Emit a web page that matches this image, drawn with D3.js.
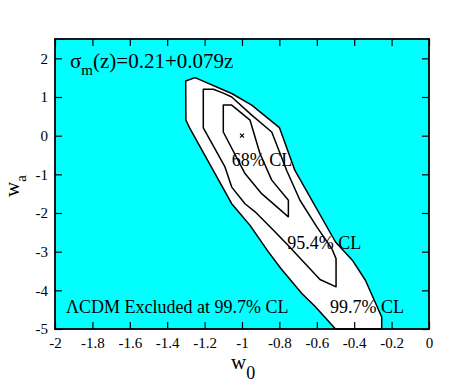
<html>
<head>
<meta charset="utf-8">
<script src="https://cdn.jsdelivr.net/npm/d3@7"></script>
<style>
  body { margin: 0; background: #fff; }
  text { font-family: "Liberation Serif", "DejaVu Serif", serif; fill: #000; }
</style>
</head>
<body>
<script>

// data: confidence contours in the (w0, wa) plane
var c997 = [[-1.301,1.414],[-1.251,1.50],[-1.055,1.09],[-0.948,0.79],[-0.80,0.21],
            [-0.717,-0.90],[-0.50,-2.75],[-0.41,-3.22],[-0.34,-3.74],[-0.253,-4.69],
            [-0.253,-5.0],[-0.50,-5.0],[-0.61,-4.41],[-0.68,-4.08],[-0.79,-3.45],
            [-0.86,-3.0],[-0.957,-2.32],[-1.055,-1.76],[-1.278,0.18],[-1.30,0.40]];
var c954 = [[-1.207,1.20],[-1.153,1.20],[-1.10,1.10],[-1.055,1.0],[-0.948,0.53],
            [-0.841,0.095],[-0.761,-0.90],[-0.69,-1.67],[-0.60,-2.36],[-0.52,-2.92],
            [-0.497,-3.18],[-0.497,-3.91],[-0.583,-3.72],[-0.759,-2.81],[-0.841,-2.40],
            [-0.93,-1.97],[-0.984,-1.76],[-1.055,-1.33],[-1.091,-0.81],[-1.207,0.2]];
var c68 = [[-1.10,0.79],[-1.055,0.79],[-0.957,0.40],[-0.904,-0.46],[-0.841,-1.15],
           [-0.752,-1.67],[-0.752,-2.10],[-0.895,-1.50],[-0.984,-0.98],[-1.10,0.095]];
var bestFit = [-1.0, 0.0];

var xTicks = [-2,-1.8,-1.6,-1.4,-1.2,-1,-0.8,-0.6,-0.4,-0.2,0];
var xTickLabels = ["-2","-1.8","-1.6","-1.4","-1.2","-1","-0.8","-0.6","-0.4","-0.2","0"];
var yTicks = [-5,-4,-3,-2,-1,0,1,2];
var yTickLabels = ["-5","-4","-3","-2","-1","0","1","2"];

var clLabels = [
  {text: "68% CL",   x: -1.055, y: -0.79},
  {text: "95.4% CL", x: -0.758, y: -2.92},
  {text: "99.7% CL", x: -0.529, y: -4.585}
];

// view
var W = 471, H = 388;
var margin = {top: 39, right: 42, bottom: 59, left: 55};
var pw = W - margin.left - margin.right;
var ph = H - margin.top - margin.bottom;

var x = d3.scaleLinear().domain([-2, 0]).range([0, pw]);
var y = d3.scaleLinear().domain([-5, 2.5]).range([ph, 0]);

var svg = d3.select("body").append("svg")
  .attr("width", W)
  .attr("height", H);

var g = svg.append("g")
  .attr("transform", "translate(" + margin.left + "," + margin.top + ")");

g.append("rect")
  .attr("width", pw)
  .attr("height", ph)
  .attr("fill", "#00ffff");

var line = d3.line()
  .x(function(d) { return x(d[0]); })
  .y(function(d) { return y(d[1]); });

g.append("path")
  .attr("d", line(c997) + "Z")
  .attr("fill", "#fff")
  .attr("stroke", "#000")
  .attr("stroke-width", 1.5)
  .attr("stroke-linejoin", "round");

[c954, c68].forEach(function(c) {
  g.append("path")
    .attr("d", line(c) + "Z")
    .attr("fill", "none")
    .attr("stroke", "#000")
    .attr("stroke-width", 1.5)
    .attr("stroke-linejoin", "round");
});

// best fit cross
var bx = x(bestFit[0]), by = y(bestFit[1]), s = 2;
g.append("path")
  .attr("d", "M" + (bx - s) + "," + (by - s) + "L" + (bx + s) + "," + (by + s) +
             "M" + (bx - s) + "," + (by + s) + "L" + (bx + s) + "," + (by - s))
  .attr("stroke", "#000")
  .attr("stroke-width", 1.2);

clLabels.forEach(function(d) {
  g.append("text")
    .attr("x", x(d.x))
    .attr("y", y(d.y))
    .style("font-size", "18px")
    .text(d.text);
});

g.append("text")
  .attr("x", 11)
  .attr("y", 274)
  .style("font-size", "18px")
  .text("\u039bCDM Excluded at 99.7% CL");

// title
var title = g.append("text")
  .attr("x", 15)
  .attr("y", 28.6)
  .style("font-size", "21px");
title.append("tspan").text("\u03c3");
title.append("tspan").attr("dy", 7).style("font-size", "15px").text("m");
title.append("tspan").attr("dy", -7).text("(z)=0.21+0.079z");

// axes
var TICK = 7;
function style_axis(a) {
  a.select(".domain").remove();
  a.selectAll("line").attr("stroke", "#000").attr("stroke-width", 1.2);
  a.selectAll("text").style("font-family", "Liberation Serif").style("font-size", "15px");
}

g.append("g")
  .attr("transform", "translate(0," + ph + ")")
  .call(d3.axisBottom(x).tickValues(xTicks).tickSize(-TICK).tickPadding(8)
    .tickFormat(function(d, i) { return xTickLabels[i]; }))
  .call(style_axis);

g.append("g")
  .call(d3.axisTop(x).tickValues(xTicks).tickSize(-TICK).tickFormat(""))
  .call(style_axis);

g.append("g")
  .call(d3.axisLeft(y).tickValues(yTicks).tickSize(-TICK).tickPadding(7)
    .tickFormat(function(d, i) { return yTickLabels[i]; }))
  .call(style_axis);

g.append("g")
  .attr("transform", "translate(" + pw + ",0)")
  .call(d3.axisRight(y).tickValues(yTicks).tickSize(-TICK).tickFormat(""))
  .call(style_axis);

g.append("rect")
  .attr("width", pw)
  .attr("height", ph)
  .attr("fill", "none")
  .attr("stroke", "#000")
  .attr("stroke-width", 1.8);

// axis labels
var xl = svg.append("text")
  .attr("x", 231)
  .attr("y", 369)
  .style("font-size", "21px");
xl.append("tspan").text("w");
xl.append("tspan").attr("dy", 10).style("font-size", "18px").text("0");

var yl = svg.append("text")
  .attr("transform", "translate(19," + (margin.top + ph / 2 + 13) + ") rotate(-90)")
  .style("font-size", "21px");
yl.append("tspan").text("w");
yl.append("tspan").attr("dy", 7).style("font-size", "15px").text("a");

</script>
</body>
</html>
